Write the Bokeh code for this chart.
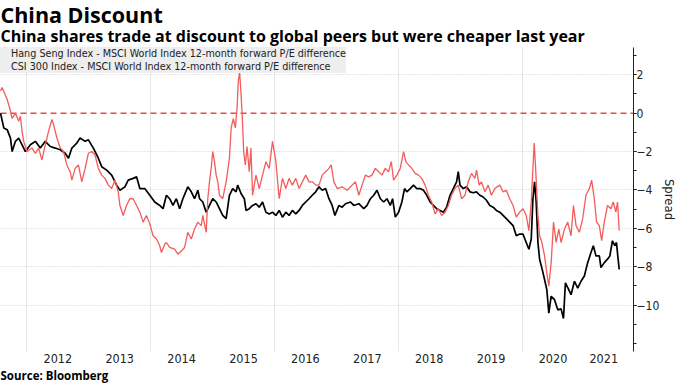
from bokeh.plotting import figure
from bokeh.models import (Range1d, FixedTicker, CustomJSTickFormatter, Span,
                          Legend, LegendItem, Title)
from bokeh.embed import file_html
from bokeh.resources import INLINE

TITLE = "China Discount"
SUBTITLE = "China shares trade at discount to global peers but were cheaper last year"
SOURCE = "Source: Bloomberg"
HS_LABEL = "Hang Seng Index - MSCI World Index 12-month forward P/E difference"
CSI_LABEL = "CSI 300 Index - MSCI World Index 12-month forward P/E difference"
Y_LABEL = "Spread"

# decimal-year dates and values
hs_t = [2011.574, 2011.627, 2011.682, 2011.735, 2011.762, 2011.815, 2011.868, 2011.923, 2011.976, 2012.056,
        2012.137, 2012.217, 2012.297, 2012.378, 2012.458, 2012.539, 2012.619, 2012.672, 2012.727, 2012.807,
        2012.860, 2012.941, 2012.994, 2013.074, 2013.154, 2013.209, 2013.289, 2013.370, 2013.450, 2013.503,
        2013.584, 2013.637, 2013.717, 2013.772, 2013.825, 2013.905, 2013.986, 2014.066, 2014.146, 2014.200,
        2014.254, 2014.307, 2014.360, 2014.415, 2014.468, 2014.520, 2014.600, 2014.656, 2014.709, 2014.762,
        2014.790, 2014.842, 2014.897, 2014.950, 2015.003, 2015.058, 2015.111, 2015.164, 2015.219, 2015.272,
        2015.325, 2015.380, 2015.405, 2015.460, 2015.513, 2015.540, 2015.593, 2015.646, 2015.701, 2015.754,
        2015.807, 2015.862, 2015.915, 2015.968, 2016.023, 2016.076, 2016.129, 2016.183, 2016.236, 2016.289,
        2016.344, 2016.397, 2016.450, 2016.505, 2016.558, 2016.611, 2016.666, 2016.719, 2016.772, 2016.826,
        2016.880, 2016.932, 2016.976, 2017.040, 2017.093, 2017.148, 2017.228, 2017.281, 2017.362, 2017.442,
        2017.495, 2017.550, 2017.603, 2017.656, 2017.711, 2017.764, 2017.817, 2017.871, 2017.908, 2017.952,
        2018.005, 2018.058, 2018.101, 2018.138, 2018.193, 2018.246, 2018.299, 2018.354, 2018.407, 2018.460,
        2018.514, 2018.567, 2018.620, 2018.675, 2018.728, 2018.781, 2018.836, 2018.889, 2018.942, 2018.969,
        2018.997, 2019.050, 2019.103, 2019.158, 2019.211, 2019.264, 2019.318, 2019.371, 2019.424, 2019.479,
        2019.532, 2019.585, 2019.640, 2019.693, 2019.746, 2019.800, 2019.854, 2019.907, 2019.961, 2020.014,
        2020.067, 2020.110, 2020.148, 2020.175, 2020.202, 2020.228, 2020.256, 2020.283, 2020.325, 2020.363,
        2020.400, 2020.432, 2020.470, 2020.524, 2020.577, 2020.630, 2020.669, 2020.700, 2020.754, 2020.791,
        2020.846, 2020.899, 2020.952, 2021.006, 2021.060, 2021.113, 2021.151, 2021.194, 2021.248, 2021.274,
        2021.328, 2021.380, 2021.418, 2021.460, 2021.498, 2021.525, 2021.546, 2021.569]
hs_v = [0.0, -0.77, -0.86, -1.3, -2.0, -1.47, -1.3, -1.65, -2.0, -1.65,
        -1.47, -1.82, -1.47, -1.74, -1.82, -1.91, -2.09, -2.35, -1.82, -1.56,
        -1.3, -1.47, -1.39, -1.82, -2.35, -2.79, -2.97, -3.23, -3.75, -4.02,
        -3.84, -3.49, -3.4, -3.32, -3.93, -3.93, -4.28, -4.63, -4.81, -4.98,
        -4.28, -4.46, -4.81, -4.46, -4.98, -4.46, -3.84, -4.1, -4.46, -4.02,
        -4.46, -4.63, -5.16, -4.81, -4.46, -4.63, -4.98, -5.33, -5.5, -4.28,
        -3.93, -4.1, -3.75, -4.19, -4.46, -5.07, -4.98, -4.81, -4.72, -4.9,
        -4.63, -5.16, -5.25, -5.16, -5.33, -5.07, -5.42, -5.16, -5.33, -5.07,
        -5.25, -5.07, -4.81, -4.63, -4.46, -4.28, -4.1, -3.84, -4.02, -3.93,
        -4.46, -4.81, -5.33, -4.81, -4.9, -4.72, -4.63, -4.81, -4.72, -4.98,
        -4.81, -4.46, -4.28, -4.02, -4.46, -4.63, -4.46, -4.81, -4.46, -5.42,
        -5.16, -4.63, -3.93, -4.1, -3.93, -3.75, -3.93, -3.93, -4.02, -4.28,
        -4.63, -4.81, -4.98, -5.07, -5.16, -4.9, -4.28, -3.93, -3.58, -3.05,
        -3.75, -3.93, -3.84, -4.1, -4.15, -4.1, -4.28, -4.37, -4.54, -4.81,
        -4.9, -5.07, -5.16, -5.33, -5.5, -5.68, -5.86, -6.39, -6.3, -6.3,
        -6.74, -7.09, -6.56, -4.46, -3.58, -4.63, -6.74, -7.61, -8.14, -8.67,
        -9.2, -10.42, -9.54, -9.72, -10.25, -10.2, -10.7, -8.84, -9.2, -9.46,
        -8.76, -9.12, -8.76, -8.49, -7.79, -7.26, -6.91, -7.44, -7.44, -8.05,
        -7.79, -7.61, -7.44, -6.65, -6.91, -6.74, -7.44, -8.14]

csi_t = [2011.574, 2011.600, 2011.681, 2011.735, 2011.762, 2011.815, 2011.868, 2011.895, 2011.923, 2011.949,
         2012.003, 2012.083, 2012.137, 2012.190, 2012.244, 2012.297, 2012.350, 2012.405, 2012.431, 2012.486,
         2012.539, 2012.592, 2012.646, 2012.699, 2012.727, 2012.780, 2012.833, 2012.887, 2012.941, 2012.994,
         2013.048, 2013.101, 2013.154, 2013.209, 2013.262, 2013.315, 2013.370, 2013.423, 2013.476, 2013.503,
         2013.556, 2013.610, 2013.663, 2013.717, 2013.772, 2013.825, 2013.878, 2013.932, 2013.986, 2014.039,
         2014.094, 2014.146, 2014.174, 2014.227, 2014.254, 2014.307, 2014.387, 2014.440, 2014.495, 2014.548,
         2014.600, 2014.656, 2014.709, 2014.762, 2014.817, 2014.842, 2014.897, 2014.923, 2014.950, 2014.977,
         2015.003, 2015.031, 2015.058, 2015.084, 2015.111, 2015.164, 2015.219, 2015.272, 2015.300, 2015.336,
         2015.368, 2015.396, 2015.416, 2015.437, 2015.460, 2015.481, 2015.502, 2015.529, 2015.556, 2015.593,
         2015.620, 2015.646, 2015.701, 2015.754, 2015.807, 2015.862, 2015.915, 2015.968, 2016.023, 2016.076,
         2016.129, 2016.183, 2016.236, 2016.289, 2016.344, 2016.397, 2016.450, 2016.505, 2016.558, 2016.611,
         2016.666, 2016.719, 2016.772, 2016.826, 2016.880, 2016.916, 2016.960, 2017.013, 2017.093, 2017.174,
         2017.254, 2017.309, 2017.362, 2017.415, 2017.469, 2017.522, 2017.575, 2017.630, 2017.683, 2017.736,
         2017.791, 2017.844, 2017.887, 2017.924, 2017.978, 2018.032, 2018.085, 2018.122, 2018.166, 2018.219,
         2018.273, 2018.326, 2018.379, 2018.434, 2018.487, 2018.540, 2018.595, 2018.648, 2018.700, 2018.755,
         2018.808, 2018.861, 2018.916, 2018.969, 2019.023, 2019.077, 2019.130, 2019.183, 2019.238, 2019.264,
         2019.307, 2019.344, 2019.399, 2019.452, 2019.505, 2019.560, 2019.640, 2019.693, 2019.746, 2019.800,
         2019.854, 2019.907, 2019.961, 2020.014, 2020.067, 2020.110, 2020.148, 2020.175, 2020.196, 2020.219,
         2020.256, 2020.283, 2020.320, 2020.363, 2020.400, 2020.432, 2020.470, 2020.508, 2020.550, 2020.593,
         2020.630, 2020.685, 2020.738, 2020.791, 2020.830, 2020.872, 2020.926, 2020.979, 2021.032, 2021.087,
         2021.124, 2021.167, 2021.204, 2021.248, 2021.285, 2021.328, 2021.380, 2021.434, 2021.473, 2021.515,
         2021.542, 2021.569]
csi_v = [1.16, 1.33, 0.72, 0.11, -0.28, -0.01, -0.42, -0.16, -0.95, -1.47,
         -2.0, -1.82, -2.1, -1.82, -2.44, -1.65, -0.95, -0.33, -0.6, -1.3,
         -1.82, -2.0, -2.7, -3.05, -3.49, -2.88, -2.7, -3.58, -2.88, -2.09,
         -2.0, -2.18, -2.88, -3.23, -3.4, -3.75, -3.93, -3.49, -4.1, -4.81,
         -5.33, -4.81, -4.46, -4.46, -4.81, -5.16, -5.68, -5.33, -5.77, -6.39,
         -6.56, -6.91, -7.26, -6.83, -6.74, -7.0, -7.09, -7.35, -7.18, -7.0,
         -6.21, -6.56, -6.04, -5.68, -5.86, -5.33, -6.21, -4.46, -3.58, -2.88,
         -2.0, -2.53, -3.23, -3.58, -4.28, -4.46, -3.58, -2.35, -0.77, -0.28,
         -0.77, 0.28, 1.68, 2.12, 1.0, -0.28, -2.0, -2.7, -1.74, -3.05,
         -1.82, -4.28, -3.23, -3.93, -3.23, -2.53, -2.88, -1.47, -2.53, -4.46,
         -3.4, -3.93, -3.4, -3.75, -3.4, -3.93, -3.58, -3.23, -3.58, -3.58,
         -3.75, -3.75, -3.23, -3.05, -2.88, -2.7, -3.58, -3.93, -3.84, -4.02,
         -3.75, -3.58, -4.28, -3.75, -3.23, -3.32, -3.23, -2.88, -3.05, -3.23,
         -2.88, -3.05, -2.53, -3.49, -3.23, -2.88, -2.0, -2.53, -2.7, -2.88,
         -3.14, -3.23, -3.4, -3.75, -4.28, -4.63, -5.25, -4.98, -5.33, -5.16,
         -4.81, -4.28, -3.93, -3.75, -4.46, -4.28, -3.58, -3.14, -3.4, -2.97,
         -3.75, -3.58, -4.1, -3.75, -4.28, -3.93, -3.75, -4.1, -4.02, -4.46,
         -4.81, -5.42, -5.16, -4.98, -5.33, -6.12, -4.63, -2.88, -1.56, -2.88,
         -5.33, -6.39, -6.74, -7.44, -8.32, -9.02, -7.79, -5.68, -6.74, -6.04,
         -6.74, -6.04, -5.68, -6.39, -4.81, -5.86, -6.21, -5.5, -4.28, -3.93,
         -3.49, -4.46, -5.68, -5.86, -6.65, -5.68, -4.81, -4.98, -4.63, -5.16,
         -4.63, -6.12]

year_ticks = [2012.5, 2013.5, 2014.5, 2015.5, 2016.5, 2017.5, 2018.5, 2019.5, 2020.5, 2021.32]
year_grid = [2012, 2014, 2016, 2018, 2020]
y_major = [-10, -8, -6, -4, -2, 0, 2]
y_minor = [-12, -11, -10, -9, -8, -7, -6, -5, -4, -3, -2, -1, 0, 1, 2, 3]
y_grid = [-10, -8, -6, -4, -2, 2]

RED = "#f45b5b"
TXT_FONT = "Open Sans"
SMALL_FONT = "DejaVu Sans Condensed"

p = figure(width=680, height=383, output_backend="svg", toolbar_location=None,
           x_range=Range1d(2011.574, 2021.8), y_range=Range1d(-12.42, 3.42),
           y_axis_location="right", min_border_left=0, min_border_right=0,
           min_border_top=0, min_border_bottom=0)
p.outline_line_color = None
p.background_fill_color = "white"

# titles (p.title is the outermost one)
p.title.text = TITLE
p.title.text_font = TXT_FONT
p.title.text_font_size = "21.5px"
p.title.text_font_style = "bold"
p.title.text_color = "black"
p.title.align = "left"
p.title.offset = 0
p.title.standoff = -3.8
p.add_layout(Title(text=SUBTITLE, text_font=TXT_FONT, text_font_size="16px",
                   text_font_style="bold", text_color="black", align="left",
                   vertical_align="top", offset=0, standoff=-4.3), "above")

# grids
p.xgrid.ticker = FixedTicker(ticks=year_grid)
p.xgrid.grid_line_color = "#e6e6e6"
p.xgrid.grid_line_width = 1
p.ygrid.ticker = FixedTicker(ticks=y_grid)
p.ygrid.grid_line_color = "#cfcfcf"
p.ygrid.grid_line_dash = "1 2"
p.ygrid.grid_line_width = 1

# x axis
p.xaxis.ticker = FixedTicker(ticks=year_ticks)
p.xaxis.formatter = CustomJSTickFormatter(code="return String(Math.floor(tick));")
p.xaxis.axis_line_color = None
p.xaxis.major_tick_line_color = None
p.xaxis.minor_tick_line_color = None
p.xaxis.major_tick_out = 0
p.xaxis.minor_tick_out = 0
p.xaxis.major_label_text_font = SMALL_FONT
p.xaxis.major_label_text_font_size = "12.5px"
p.xaxis.major_label_text_color = "#222222"
p.xaxis.major_label_standoff = 2

# y axis
p.yaxis.ticker = FixedTicker(ticks=y_major, minor_ticks=y_minor)
p.yaxis.axis_line_color = "#222222"
p.yaxis.major_tick_line_color = "#222222"
p.yaxis.minor_tick_line_color = "#222222"
p.yaxis.major_tick_out = 3
p.yaxis.major_tick_in = 0
p.yaxis.minor_tick_out = 3
p.yaxis.minor_tick_in = 0
p.yaxis.major_label_text_font = SMALL_FONT
p.yaxis.major_label_text_font_size = "12px"
p.yaxis.major_label_text_color = "#222222"
p.yaxis.major_label_standoff = 0
p.yaxis.axis_label = Y_LABEL
p.yaxis.axis_label_text_font = SMALL_FONT
p.yaxis.axis_label_text_font_size = "13px"
p.yaxis.axis_label_text_font_style = "normal"
p.yaxis.axis_label_text_color = "#222222"
p.yaxis.axis_label_standoff = 0

# source
p.add_layout(Title(text=SOURCE, text_font=TXT_FONT, text_font_size="11.5px",
                   text_font_style="bold", text_color="black", align="left",
                   offset=0, standoff=0.8), "below")

# zero line
p.add_layout(Span(location=0, dimension="width", line_color="#e84a4e",
                  line_dash="6 4", line_width=1.5))

# series
p.line(hs_t, hs_v, line_color="black", line_width=1.7, level="overlay")
p.line(csi_t, csi_v, line_color=RED, line_width=1.3, level="overlay")

# legend (square swatches)
sw_hs = p.vbar(x=[], top=[], width=0.1, fill_color="black", line_color=None)
sw_csi = p.vbar(x=[], top=[], width=0.1, fill_color=RED, line_color=None)
legend = Legend(items=[LegendItem(label=HS_LABEL, renderers=[sw_hs]),
                       LegendItem(label=CSI_LABEL, renderers=[sw_csi])],
                location="top_left", margin=0, padding=6, spacing=0,
                glyph_width=9, glyph_height=9, label_height=11, label_standoff=2,
                label_text_font=SMALL_FONT, label_text_font_size="10.7px",
                label_text_line_height=1.0,
                label_text_color="#222222",
                background_fill_color="#eeeeee", background_fill_alpha=1.0,
                border_line_color=None)
p.add_layout(legend)

open("out.html", "w").write(file_html(p, INLINE))
